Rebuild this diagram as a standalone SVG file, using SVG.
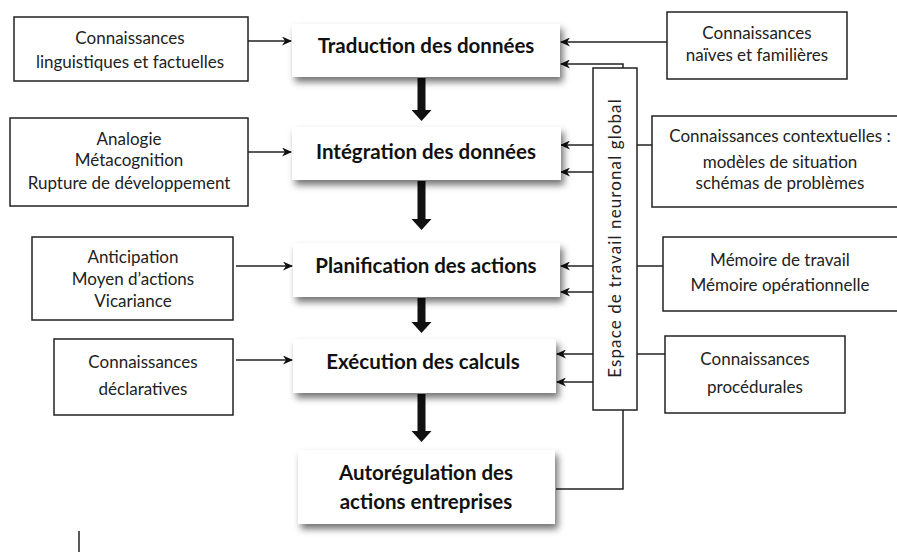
<svg xmlns="http://www.w3.org/2000/svg" width="897" height="552" viewBox="0 0 897 552">
<style>
.box{fill:#fff;stroke:#222;stroke-width:1.5}
.main{fill:#fff;stroke:none;filter:url(#sh)}
.t{font-family:Lato,"Open Sans",sans-serif;font-size:17px;fill:#222;text-anchor:middle}
.b{font-family:Lato,"Open Sans",sans-serif;font-size:20.5px;font-weight:bold;fill:#111;text-anchor:middle}
.ln{stroke:#222;stroke-width:1.5;fill:none}
.ar{stroke:#222;stroke-width:1.5;fill:none;marker-end:url(#ah)}
.big{fill:#111}
</style>
<defs>
<filter id="sh" x="-10%" y="-20%" width="125%" height="160%">
<feDropShadow dx="3" dy="5" stdDeviation="3.5" flood-color="#000" flood-opacity="0.55"/>
</filter>
<marker id="ah" markerWidth="10" markerHeight="9" refX="9" refY="4.5" orient="auto" markerUnits="userSpaceOnUse">
<path d="M0,0 L10,4.5 L0,9 L3,4.5 Z" fill="#111"/>
</marker>
</defs>

<g id="connectors">
<line class="ar" x1="248" y1="41" x2="291" y2="41"/>
<line class="ar" x1="248" y1="152" x2="291" y2="152"/>
<line class="ar" x1="236" y1="266" x2="292" y2="266"/>
<line class="ar" x1="236" y1="360" x2="292" y2="360"/>
<line class="ar" x1="667" y1="42" x2="561" y2="42"/>
<polyline class="ar" points="623,68 623,64 561,64"/>
<line class="ar" x1="593" y1="145" x2="561" y2="145"/>
<line class="ar" x1="593" y1="172" x2="561" y2="172"/>
<line class="ar" x1="593" y1="266" x2="561" y2="266"/>
<line class="ar" x1="593" y1="292" x2="561" y2="292"/>
<line class="ar" x1="593" y1="354" x2="557" y2="354"/>
<line class="ar" x1="593" y1="382" x2="557" y2="382"/>
<line class="ln" x1="637" y1="145" x2="652" y2="145"/>
<line class="ln" x1="637" y1="266" x2="663" y2="266"/>
<line class="ln" x1="637" y1="354" x2="665" y2="354"/>
<polyline class="ln" points="623,410 623,489 556,489"/>
<line class="ln" x1="79" y1="531" x2="79" y2="552"/>
<path class="big" d="M417.5,78 h8 v32 h6 l-10,11 l-10,-11 h6 Z"/>
<path class="big" d="M417.5,181 h8 v38 h6 l-10,11 l-10,-11 h6 Z"/>
<path class="big" d="M417.5,298 h8 v24 h6 l-10,11 l-10,-11 h6 Z"/>
<path class="big" d="M417.5,394 h8 v37 h6 l-10,11 l-10,-11 h6 Z"/>
</g>

<g id="n-traduction">
<rect class="main" x="292" y="24" width="268" height="53"/>
<text class="b" x="426" y="53">Traduction des données</text>
</g>
<g id="n-integration">
<rect class="main" x="292" y="127" width="269" height="53"/>
<text class="b" x="426" y="159">Intégration des données</text>
</g>
<g id="n-planification">
<rect class="main" x="293" y="243" width="267" height="54"/>
<text class="b" x="426" y="273">Planification des actions</text>
</g>
<g id="n-execution">
<rect class="main" x="293" y="339" width="263" height="54"/>
<text class="b" x="423" y="369">Exécution des calculs</text>
</g>
<g id="n-autoregulation">
<rect class="main" x="298" y="450" width="257" height="74"/>
<text class="b" x="426" y="480">Autorégulation des</text>
<text class="b" x="426" y="509">actions entreprises</text>
</g>

<g id="n-linguistiques">
<rect class="box" x="14" y="17" width="234" height="64"/>
<text class="t" x="130" y="44">Connaissances</text>
<text class="t" x="130" y="68">linguistiques et factuelles</text>
</g>
<g id="n-analogie">
<rect class="box" x="10" y="118" width="238" height="88"/>
<text class="t" x="129" y="145">Analogie</text>
<text class="t" x="129" y="166">Métacognition</text>
<text class="t" x="129" y="189">Rupture de développement</text>
</g>
<g id="n-anticipation">
<rect class="box" x="32" y="237" width="201" height="83"/>
<text class="t" x="133" y="263">Anticipation</text>
<text class="t" x="133" y="285">Moyen d’actions</text>
<text class="t" x="133" y="307">Vicariance</text>
</g>
<g id="n-declaratives">
<rect class="box" x="54" y="339" width="179" height="76"/>
<text class="t" x="143" y="368">Connaissances</text>
<text class="t" x="143" y="395">déclaratives</text>
</g>

<g id="n-naives">
<rect class="box" x="667" y="12" width="180" height="67"/>
<text class="t" x="757" y="39">Connaissances</text>
<text class="t" x="757" y="61">naïves et familières</text>
</g>
<g id="n-contextuelles">
<rect class="box" x="652" y="116" width="258" height="91"/>
<text class="t" x="780" y="142">Connaissances contextuelles :</text>
<text class="t" x="780" y="168">modèles de situation</text>
<text class="t" x="780" y="189">schémas de problèmes</text>
</g>
<g id="n-memoire">
<rect class="box" x="663" y="237" width="247" height="74"/>
<text class="t" x="780" y="266">Mémoire de travail</text>
<text class="t" x="780" y="291">Mémoire opérationnelle</text>
</g>
<g id="n-procedurales">
<rect class="box" x="665" y="336" width="180" height="77"/>
<text class="t" x="755" y="365">Connaissances</text>
<text class="t" x="755" y="393">procédurales</text>
</g>

<g id="n-espace">
<rect class="box" x="593" y="68" width="44" height="342"/>
<text class="t" transform="translate(621,238) rotate(-90)" x="0" y="0" style="letter-spacing:1.1px">Espace de travail neuronal global</text>
</g>
</svg>
